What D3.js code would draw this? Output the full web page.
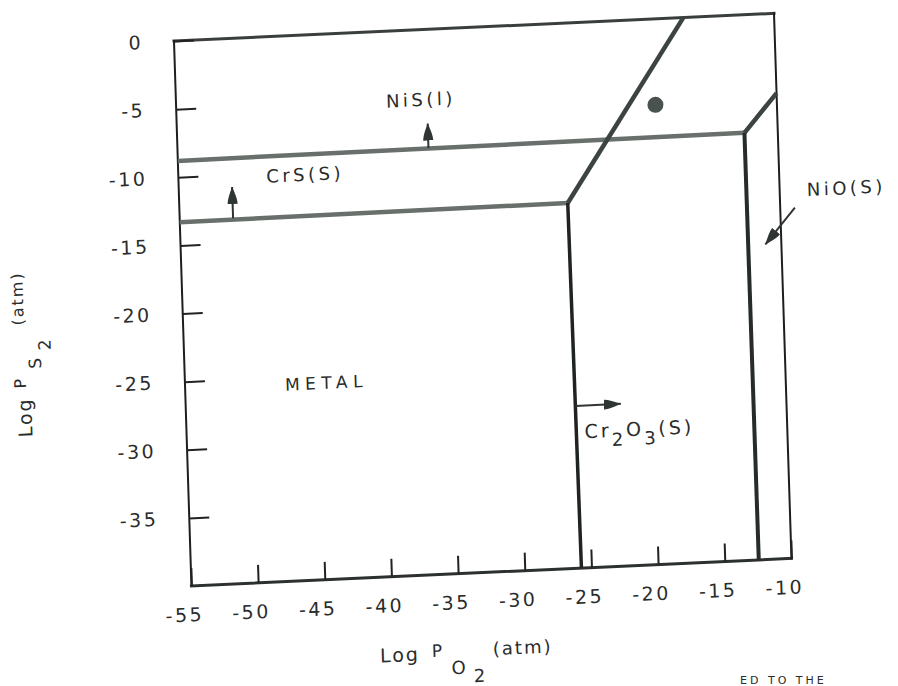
<!DOCTYPE html>
<html>
<head>
<meta charset="utf-8">
<script src="https://cdn.jsdelivr.net/npm/d3@7"></script>
<style>
body { margin: 0; background: #fff; }
svg { display: block; }
text { font-family: "DejaVu Sans", sans-serif; fill: #2a2c2b; }
</style>
</head>
<body>
<div id="chart"></div>
<script>
// axis ticks, log P(O2) and log P(S2) in atm
let xTicks = [-55, -50, -45, -40, -35, -30, -25, -20, -15, -10];
let yTicks = [0, -5, -10, -15, -20, -25, -30, -35];

// phase boundaries as [log PO2, log PS2]
let nisLine   = [[-55, -8.8], [-12.5, -8.65]];
let nisNioLine = [[-12.5, -8.65], [-10, -5.85]];
let nioLine   = [[-12.45, -40], [-12.5, -8.65]];
let crsLine   = [[-55, -13.3], [-25.9, -13.2]];
let cr2o3Line = [[-25.75, -40], [-25.9, -13.2]];
let cr2o3Diag = [[-25.9, -13.2], [-16.8, 0]];

// the single measured point
let points = [[-19.1, -6.3]];

// arrows: start -> tip
let arrowFrom = [[-36.2, -8.7], [-51, -13.2], [-25.8, -28.1], [-8.9, -14.3]];
let arrowTo   = [[-36.2, -6.9], [-51, -10.9], [-22.4, -28.1], [-11.2, -16.9]];

// region labels
let labelText = ["NiS(l)", "CrS(S)", "METAL", "NiO(S)"];
let labelAt   = [[-36.65, -5.6], [-45.5, -10.7], [-44.4, -26.0], [-7.97, -13.5]];

let W = 600, H = 545;

let x = d3.scaleLinear().domain([-55, -10]).range([0, W]);
let y = d3.scaleLinear().domain([0, -40]).range([0, H]);

let svg = d3.select("#chart").append("svg")
    .attr("width", 898)
    .attr("height", 686);

svg.append("rect").attr("width", 898).attr("height", 686).attr("fill", "#fff");

// the scanned figure sits a little tilted on the page
let g = svg.append("g")
    .attr("transform", "matrix(1,-0.046,0.032,1,174,41)");

let line = d3.line()
    .x(function(d) { return x(d[0]); })
    .y(function(d) { return y(d[1]); });

// frame, edge by edge (the scan shows different weights)
let edges = [
    {p: [[-55, 0], [-10, 0]], w: 3, c: "#3a3f3d"},
    {p: [[-55, 0], [-55, -40]], w: 2, c: "#1c1f1e"},
    {p: [[-55, -40], [-10, -40]], w: 3, c: "#2c302e"},
    {p: [[-10, 0], [-10, -40]], w: 2, c: "#1c1f1e"}
];
g.append("g").selectAll("path")
    .data(edges)
    .enter().append("path")
    .attr("d", function(d) { return line(d.p); })
    .attr("fill", "none")
    .attr("stroke", function(d) { return d.c; })
    .attr("stroke-width", function(d) { return d.w; })
    .attr("stroke-linecap", "square");

// axes, ticks pointing inward
let xAxis = d3.axisBottom(x)
    .tickValues(xTicks)
    .tickSizeInner(-18)
    .tickSizeOuter(0)
    .tickPadding(22)
    .tickFormat(function(d) { return String(d); });

let gx = g.append("g")
    .attr("transform", "translate(0," + H + ")")
    .call(xAxis);

let yAxis = d3.axisLeft(y)
    .tickValues(yTicks)
    .tickSizeInner(-20)
    .tickSizeOuter(0)
    .tickPadding(31)
    .tickFormat(function(d) { return String(d); });

let gy = g.append("g").call(yAxis);

[gx, gy].forEach(function(a) {
    a.select(".domain").remove();
    a.attr("font-family", "DejaVu Sans, sans-serif")
        .attr("font-size", 19)
        .attr("color", "#222");
    a.selectAll(".tick line").attr("stroke-width", 2);
    a.selectAll(".tick text")
        .attr("letter-spacing", 2.5)
        .style("fill", "#2a2c2b");
});
gx.selectAll(".tick text").attr("dx", -8);

// phase boundaries
let bounds = [
    {p: nisLine, w: 4.5, c: "#69706c"},
    {p: crsLine, w: 4.5, c: "#69706c"},
    {p: nisNioLine, w: 4.5, c: "#3b4441"},
    {p: cr2o3Diag, w: 4.5, c: "#3b4441"},
    {p: nioLine, w: 4, c: "#262c2a"},
    {p: cr2o3Line, w: 3.5, c: "#1f2422"}
];
g.append("g").selectAll("path")
    .data(bounds)
    .enter().append("path")
    .attr("d", function(d) { return line(d.p); })
    .attr("fill", "none")
    .attr("stroke", function(d) { return d.c; })
    .attr("stroke-width", function(d) { return d.w; })
    .attr("stroke-linejoin", "round");

g.selectAll(".pt")
    .data(points)
    .enter().append("circle")
    .attr("class", "pt")
    .attr("cx", function(d) { return x(d[0]); })
    .attr("cy", function(d) { return y(d[1]); })
    .attr("r", 8)
    .attr("fill", "#4a524e");

// arrows
svg.append("defs").append("marker")
    .attr("id", "head")
    .attr("viewBox", "0 -6 18 12")
    .attr("refX", 17)
    .attr("refY", 0)
    .attr("markerUnits", "userSpaceOnUse")
    .attr("markerWidth", 18)
    .attr("markerHeight", 12)
    .attr("orient", "auto")
    .append("path")
    .attr("d", "M0,-5 C4,-5 10,-3 17,0 C10,3 4,5 0,5 Z")
    .attr("fill", "#2f3533");

g.append("g").selectAll("path")
    .data(d3.range(arrowFrom.length))
    .enter().append("path")
    .attr("d", function(i) { return line([arrowFrom[i], arrowTo[i]]); })
    .attr("stroke", "#2f3533")
    .attr("stroke-width", 2)
    .attr("marker-end", "url(#head)");

// region labels
g.append("g").selectAll("text")
    .data(d3.range(labelText.length))
    .enter().append("text")
    .attr("x", function(i) { return x(labelAt[i][0]); })
    .attr("y", function(i) { return y(labelAt[i][1]); })
    .attr("text-anchor", function(i) { return labelText[i] === "NiO(S)" ? "start" : "middle"; })
    .attr("font-size", function(i) { return labelText[i] === "METAL" ? 17 : 18; })
    .attr("letter-spacing", function(i) { return labelText[i] === "METAL" ? 5.5 : 3.5; })
    .text(function(i) { return labelText[i]; });

// Cr2O3(S) with subscripts
let cr = g.append("text")
    .attr("x", x(-25.2))
    .attr("y", y(-30.5))
    .attr("font-size", 19)
    .attr("letter-spacing", 3);
cr.append("tspan").text("Cr");
cr.append("tspan").attr("dy", 9).attr("font-size", 18).text("2");
cr.append("tspan").attr("dy", -9).text("O");
cr.append("tspan").attr("dy", 9).attr("font-size", 18).text("3");
cr.append("tspan").attr("dy", -9).text("(S)");

// x axis title: Log P O2 (atm)
let xt = g.append("g").attr("transform", "translate(186," + (H + 85) + ")")
    .attr("font-size", 19)
    .attr("letter-spacing", 2);
xt.append("text").attr("x", 0).attr("y", 0).text("Log");
xt.append("text").attr("x", 52).attr("y", -3).attr("font-size", 17).text("P");
xt.append("text").attr("x", 71).attr("y", 15).attr("font-size", 18).text("O");
xt.append("text").attr("x", 93).attr("y", 24).attr("font-size", 18).text("2");
xt.append("text").attr("x", 113).attr("y", -2).attr("font-size", 18).text("(atm)");

// y axis title: Log P S2 (atm)
let yt = g.append("g").attr("transform", "translate(-154,389) rotate(-90)")
    .attr("font-size", 19)
    .attr("letter-spacing", 2);
yt.append("text").attr("x", 0).attr("y", 0).text("Log");
yt.append("text").attr("x", 49).attr("y", -5).attr("font-size", 16).text("P");
yt.append("text").attr("x", 68).attr("y", 11).attr("font-size", 17).text("S");
yt.append("text").attr("x", 86).attr("y", 21).attr("font-size", 17).text("2");
yt.append("text").attr("x", 112).attr("y", -5).attr("font-size", 16).text("(atm)");

// caption line at the bottom edge of the scan
svg.append("text")
    .attr("x", 740)
    .attr("y", 684)
    .attr("font-size", 11)
    .attr("letter-spacing", 3)
    .attr("fill", "#555")
    .text("ED TO THE");
</script>
</body>
</html>
